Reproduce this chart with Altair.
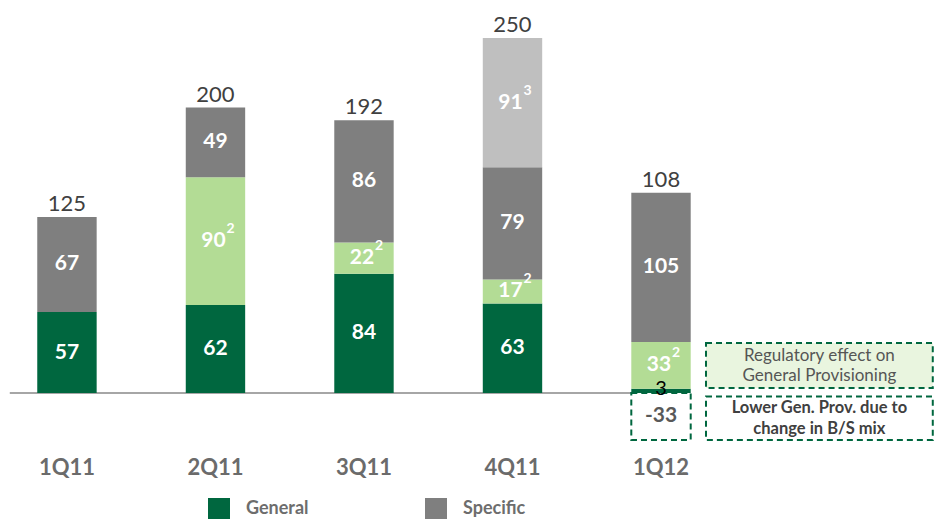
import altair as alt
import pandas as pd

# ---- chart values ----
quarters = ["1Q11", "2Q11", "3Q11", "4Q11", "1Q12"]
general = [57, 62, 84, 63, 3]
regulatory = [0, 90, 22, 17, 33]
specific = [67, 49, 86, 79, 105]
one_off = [0, 0, 0, 91, 0]
totals = [125, 200, 192, 250, 108]
lower_general = [0, 0, 0, 0, -33]
series_names = ["General", "Regulatory", "Specific", "One-off"]
series_notes = ["", "2", "", "3"]
series_colors = ["#00673F", "#B3DC95", "#7F7F7F", "#BFBFBF"]
legend_values = ["General", "Specific"]
reg_note_text = "Regulatory effect on\nGeneral Provisioning"
lower_note_text = "Lower Gen. Prov. due to\nchange in B/S mix"

FONT = "Lato"
HALF = 0.2  # half bar width in category units

# ---- build tables ----
rows = []
tops = []
for i, q in enumerate(quarters):
    base = 0
    for name, vals, note in zip(series_names, [general, regulatory, specific, one_off], series_notes):
        v = vals[i]
        if v:
            rows.append(dict(q=q, pos=i, x0=i - HALF, x1=i + HALF, series=name,
                             y0=base, y1=base + v, mid=base + v / 2, label=str(v), note=note,
                             small=v < 10))
            base += v
    tops.append(base)
seg = pd.DataFrame(rows)

tot = pd.DataFrame(dict(q=quarters, pos=list(range(len(quarters))), top=tops, total=totals))

neg = pd.DataFrame([dict(pos=i, x0=i - HALF, x1=i + HALF, y0=v, y1=0, mid=v / 2, label=str(v))
                    for i, v in enumerate(lower_general) if v])

last = len(quarters) - 1
ann = pd.DataFrame([
    dict(x0=last + 0.303, x1=last + 1.83, y0=general[last] + 0.5,
         y1=general[last] + regulatory[last] - 0.8, text=reg_note_text, kind="reg"),
    dict(x0=last + 0.303, x1=last + 1.83, y0=lower_general[last],
         y1=-2.5, text=lower_note_text, kind="low"),
])
ann["xm"] = (ann.x0 + ann.x1) / 2
ann["ym"] = (ann.y0 + ann.y1) / 2

xs = alt.Scale(domain=[-0.397, 5.845], nice=False, zero=False)
ys = alt.Scale(domain=[-88.7, 271.1], nice=False, zero=False)
X = lambda f: alt.X(f, type="quantitative", scale=xs, axis=None)
Y = lambda f: alt.Y(f, type="quantitative", scale=ys, axis=None)

color = alt.Color("series:N",
                  scale=alt.Scale(domain=series_names, range=series_colors),
                  legend=alt.Legend(values=legend_values, title=None, orient="none",
                                    legendX=200, legendY=490, direction="horizontal",
                                    symbolType="square", symbolSize=484, symbolStrokeWidth=0,
                                    labelFont=FONT, labelFontSize=18, labelFontWeight="bold",
                                    labelColor="#6D6D6D", labelOffset=16, columnPadding=116))

baseline = alt.Chart(pd.DataFrame(dict(a=[-0.385], b=[last], y=[0]))).mark_rule(
    color="#A6A6A6", strokeWidth=2).encode(x=X("a"), x2="b", y=Y("y"))

bars = alt.Chart(seg).mark_rect().encode(
    x=X("x0"), x2="x1", y=Y("y0"), y2="y1", color=color)

seg_labels = alt.Chart(seg).transform_filter("!datum.small && datum.note == ''").mark_text(
    font=FONT, fontSize=21, fontWeight="bold", color="white").encode(
    x=X("pos"), y=Y("mid"), text="label:N")

seg_labels_note = alt.Chart(seg).transform_filter("!datum.small && datum.note != ''").mark_text(
    font=FONT, fontSize=21, fontWeight="bold", color="white", dx=-2).encode(
    x=X("pos"), y=Y("mid"), text="label:N")

sup_labels = alt.Chart(seg).transform_filter("datum.note != ''").mark_text(
    font=FONT, fontSize=14, fontWeight="bold", color="white", dx=15, dy=-12).encode(
    x=X("pos"), y=Y("mid"), text="note:N")

small_labels = alt.Chart(seg).transform_filter("datum.small").mark_text(
    font=FONT, fontSize=20, color="black", baseline="middle").encode(
    x=X("pos"), y=Y("y1"), text="label:N")

total_labels = alt.Chart(tot).mark_text(
    font=FONT, fontSize=22, color="#404040", baseline="alphabetic", dy=-6).encode(
    x=X("pos"), y=Y("top"), text="total:N")

cat_labels = alt.Chart(tot).mark_text(
    font=FONT, fontSize=22, fontWeight="bold", color="#6B6B6B").encode(
    x=X("pos"), y=alt.value(460), text="q:N")

neg_box = alt.Chart(neg).mark_rect(
    fill="white", stroke="#00673F", strokeWidth=2, strokeDash=[6, 4]).encode(
    x=X("x0"), x2="x1", y=Y("y0"), y2="y1")

neg_labels = alt.Chart(neg).mark_text(
    font=FONT, fontSize=21, fontWeight="bold", color="#595959").encode(
    x=X("pos"), y=Y("mid"), text="label:N")

ann_boxes = alt.Chart(ann).mark_rect(
    stroke="#00673F", strokeWidth=2, strokeDash=[6, 4]).encode(
    x=X("x0"), x2="x1", y=Y("y0"), y2="y1",
    fill=alt.Fill("kind:N", scale=alt.Scale(domain=["reg", "low"], range=["#E9F5DF", "#FFFFFF"]),
                  legend=None))

ann_reg = alt.Chart(ann).transform_filter("datum.kind == 'reg'").mark_text(
    font=FONT, fontSize=17, color="#555555", lineBreak="\n", lineHeight=20, dy=-10).encode(
    x=X("xm"), y=Y("ym"), text="text:N")

ann_low = alt.Chart(ann).transform_filter("datum.kind == 'low'").mark_text(
    font=FONT, fontSize=16.5, fontWeight="bold", color="#404040", lineBreak="\n", lineHeight=21,
    dy=-10).encode(
    x=X("xm"), y=Y("ym"), text="text:N")

chart = alt.layer(
    baseline, bars, seg_labels, seg_labels_note, sup_labels, neg_box, neg_labels, small_labels,
    total_labels, cat_labels, ann_boxes, ann_reg, ann_low
).resolve_scale(color="independent").properties(
    width=927, height=511, padding=0,
    autosize=alt.AutoSizeParams(type="none"),
).configure_view(stroke=None)

chart.save("out.html", embed_options={"renderer": "svg", "actions": False})
